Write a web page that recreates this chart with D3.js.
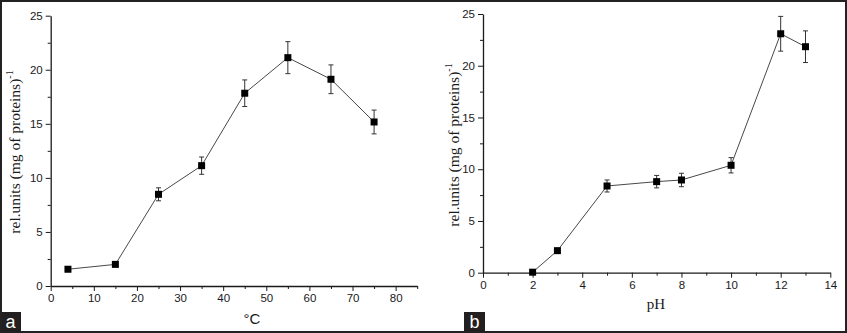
<!DOCTYPE html>
<html><head><meta charset="utf-8">
<script src="https://cdn.jsdelivr.net/npm/d3@7"></script>
<style>body{margin:0;background:#fff}svg{display:block}</style>
</head><body>
<svg id="c" width="847" height="333"></svg>
<script>
// Panel a: temperature
const tempX = [4, 15, 25, 35, 45, 55, 65, 75];
const tempY = [1.55, 2.0, 8.48, 11.13, 17.83, 21.12, 19.12, 15.17];
const tempErr = [0.1, 0.1, 0.6, 0.8, 1.23, 1.48, 1.33, 1.1];
const tempXTicks = [0, 10, 20, 30, 40, 50, 60, 70, 80];
// Panel b: pH
const phX = [2, 3, 5, 7, 8, 10, 12, 13];
const phY = [0.05, 2.13, 8.38, 8.8, 8.96, 10.38, 23.09, 21.84];
const phErr = [0.1, 0.1, 0.58, 0.6, 0.65, 0.74, 1.68, 1.53];
const phXTicks = [0, 2, 4, 6, 8, 10, 12, 14];
const yTicks = [0, 5, 10, 15, 20, 25];

const svg = d3.select("#c");
const ink = "#1a1a1a";

function panel(cfg) {
  const g = svg.append("g");
  const x = d3.scaleLinear().domain(cfg.xDomain).range([cfg.x0, cfg.x1]);
  const y = d3.scaleLinear().domain([0, 25]).range([cfg.y0, cfg.y1]);
  // minor ticks
  g.append("g").attr("transform", `translate(0,${cfg.y0})`)
    .call(d3.axisBottom(x).tickValues(cfg.xMinor).tickSize(3).tickFormat("").tickSizeOuter(0))
    .call(a => a.select(".domain").remove());
  g.append("g").attr("transform", `translate(${cfg.x0},0)`)
    .call(d3.axisLeft(y).tickValues([2.5, 7.5, 12.5, 17.5, 22.5]).tickSize(3).tickFormat("").tickSizeOuter(0))
    .call(a => a.select(".domain").remove());
  // major axes
  g.append("g").attr("transform", `translate(0,${cfg.y0})`)
    .call(d3.axisBottom(x).tickValues(cfg.xTicks).tickSize(5).tickSizeOuter(0).tickPadding(3));
  g.append("g").attr("transform", `translate(${cfg.x0},0)`)
    .call(d3.axisLeft(y).tickValues(yTicks).tickSize(5).tickSizeOuter(0).tickPadding(3));
  g.selectAll(".domain").attr("stroke", ink).attr("stroke-width", 1.3);
  g.selectAll(".tick line").attr("stroke", ink).attr("stroke-width", 1);
  g.selectAll(".tick text").attr("fill", ink).style("font-family", "'Liberation Sans', Arial, sans-serif").style("font-size", "11.5px");

  // line
  const line = d3.line().x((d, i) => x(cfg.xs[i])).y(d => y(d));
  g.append("path").datum(cfg.ys).attr("d", line).attr("fill", "none").attr("stroke", "#333").attr("stroke-width", 0.9);
  // error bars
  const eb = g.append("g").attr("stroke", "#333").attr("stroke-width", 1);
  cfg.ys.forEach((v, i) => {
    const cx = x(cfg.xs[i]);
    const t = y(v + cfg.err[i]), b = y(v - cfg.err[i]);
    eb.append("line").attr("x1", cx).attr("x2", cx).attr("y1", t).attr("y2", b);
    eb.append("line").attr("x1", cx - 2.5).attr("x2", cx + 2.5).attr("y1", t).attr("y2", t);
    eb.append("line").attr("x1", cx - 2.5).attr("x2", cx + 2.5).attr("y1", b).attr("y2", b);
  });
  // markers
  g.selectAll("rect.m").data(cfg.ys).join("rect").attr("class", "m")
    .attr("x", (d, i) => x(cfg.xs[i]) - 3.5).attr("y", d => y(d) - 3.5)
    .attr("width", 7).attr("height", 7).attr("fill", "#000");

  // y title
  const yt = g.append("text").attr("transform", `translate(${cfg.ytx},${cfg.yty}) rotate(-90)`)
    .attr("text-anchor", "middle").attr("fill", ink)
    .style("font-family", "'Liberation Serif', 'Times New Roman', serif").style("font-size", "15.5px");
  yt.append("tspan").text("rel.units (mg of proteins)");
  yt.append("tspan").attr("dy", -7).style("font-size", "10px").text("-1");
  // x title
  g.append("text").attr("x", cfg.xtx).attr("y", cfg.xty).attr("text-anchor", "middle").attr("fill", ink)
    .style("font-family", cfg.xtFont).style("font-size", "15px").text(cfg.xTitle);
  // panel label
  g.append("rect").attr("x", cfg.lx).attr("y", 312).attr("width", 21).attr("height", 20).attr("fill", "#231f20");
  g.append("text").attr("x", cfg.lx + 10.5).attr("y", 328).attr("text-anchor", "middle").attr("fill", "#fff")
    .style("font-family", "'Liberation Sans', Arial, sans-serif").style("font-size", "18px").text(cfg.label);
}

panel({
  xDomain: [0, 85], x0: 50.7, x1: 417.2, y0: 286, y1: 15.7,
  xTicks: tempXTicks, xMinor: [5, 15, 25, 35, 45, 55, 65, 75, 85],
  xs: tempX, ys: tempY, err: tempErr,
  ytx: 20, yty: 152, xtx: 252, xty: 324, xTitle: "°C",
  xtFont: "'Liberation Sans', Arial, sans-serif", label: "a", lx: 0
});
panel({
  xDomain: [0, 14], x0: 483, x1: 830.3, y0: 272.7, y1: 14,
  xTicks: phXTicks, xMinor: [1, 3, 5, 7, 9, 11, 13],
  xs: phX, ys: phY, err: phErr,
  ytx: 459, yty: 145, xtx: 656, xty: 309, xTitle: "pH",
  xtFont: "'Liberation Serif', 'Times New Roman', serif", label: "b", lx: 464
});

// outer frame
svg.append("rect").attr("x", 1).attr("y", 1).attr("width", 845).attr("height", 331)
  .attr("fill", "none").attr("stroke", "#222").attr("stroke-width", 2);
</script>
</body></html>
